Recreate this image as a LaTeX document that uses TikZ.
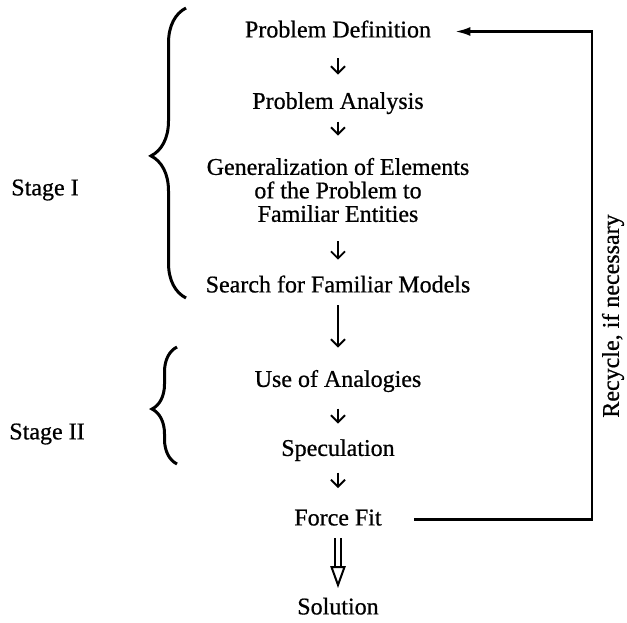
\documentclass[tikz,border=0pt]{standalone}
\usepackage{fontspec}
\setmainfont{Liberation Serif}
\usepackage{tikz}
\usetikzlibrary{arrows.meta}
\usetikzlibrary{decorations.pathreplacing}
\usetikzlibrary{calc}
\newcommand{\stepfont}{\fontsize{12}{11.75}\selectfont\addfontfeatures{FakeBold=0.7}}
\tikzstyle{stepbox} = [text centered, inner sep=0pt, text height=8.5pt, text depth=2.6pt, font=\stepfont]
\tikzstyle{multistep} = [align=center, inner sep=0pt, font=\stepfont]
\tikzstyle{stagelabel} = [inner sep=0pt, font=\stepfont]
\tikzstyle{smallflow} = [-{Straight Barb[length=3.5pt,width=7pt]}, line width=0.9pt]
\tikzstyle{longflow} = [-{Straight Barb[length=3.5pt,width=7pt]}, line width=0.9pt]
\tikzstyle{recycle} = [-{Latex[length=7.5pt,width=4.5pt]}, line width=1.1pt, shorten <=16pt, shorten >=12pt]
\tikzstyle{stagebrace} = [decorate, line width=1.5pt]

\begin{document}
\begin{tikzpicture}[x=0.5pt,y=-0.5pt]
		\useasboundingbox (0,0) rectangle (627,622);
		% steps of the method
		\node[stepbox] (pdef) at (338,31.5) {Problem Definition};
		\node[stepbox] (pana) at (338,103) {Problem Analysis};
		\node[multistep] (gen) at (338,190) {Generalization of Elements\\of the Problem to\\Familiar Entities};
		\node[stepbox] (search) at (338,286.5) {Search for Familiar Models};
		\node[stepbox] (analog) at (338,381) {Use of Analogies};
		\node[stepbox] (spec) at (338,450) {Speculation};
		\node[stepbox] (force) at (338,519.5) {Force Fit};
		\node[stepbox] (sol) at (338,608.5) {Solution};
		% stage labels
		\node[stagelabel] (st1) at (45,190) {Stage I};
		\node[stagelabel] (st2) at (47,434) {Stage II};
		\node[stagelabel, rotate=90] (recyc) at (613,316) {Recycle, if necessary};
		% braces
		\draw[stagebrace, decoration={brace, amplitude=17.5pt, aspect=0.49}] (186,298) -- (186,8);
		\draw[stagebrace, decoration={brace, amplitude=12.5pt, aspect=0.47}] (177,464) -- (177,347);
		% flow arrows
		\draw[smallflow, shorten <=7.7pt, shorten >=8.5pt] (pdef) -- (pana);
		\draw[smallflow, shorten <=3.5pt, shorten >=11pt] (pana) -- (gen);
		\draw[smallflow, shorten <=9.5pt, shorten >=7.7pt] (gen) -- (search);
		\draw[longflow, shorten <=3.7pt, shorten >=11pt] (search) -- (analog);
		\draw[smallflow, shorten <=8pt, shorten >=7.5pt] (analog) -- (spec);
		\draw[smallflow, shorten <=5.5pt, shorten >=10pt] (spec) -- (force);
		% double arrow to solution
		\coordinate (tri) at (338,567);
		\draw[line width=0.9pt, double, double distance=2.1pt, shorten <=3.7pt] (force) -- (tri);
		\draw[line width=1pt, line join=miter] ($(tri)+(-6.5,0)$) -- ($(tri)+(6.5,0)$) -- ($(tri)+(0,18)$) -- cycle;
		% recycle loop
		\coordinate (rc) at (592,31.5);
		\draw[recycle] (force) -| (rc) -- (pdef);
	\end{tikzpicture}
\end{document}
